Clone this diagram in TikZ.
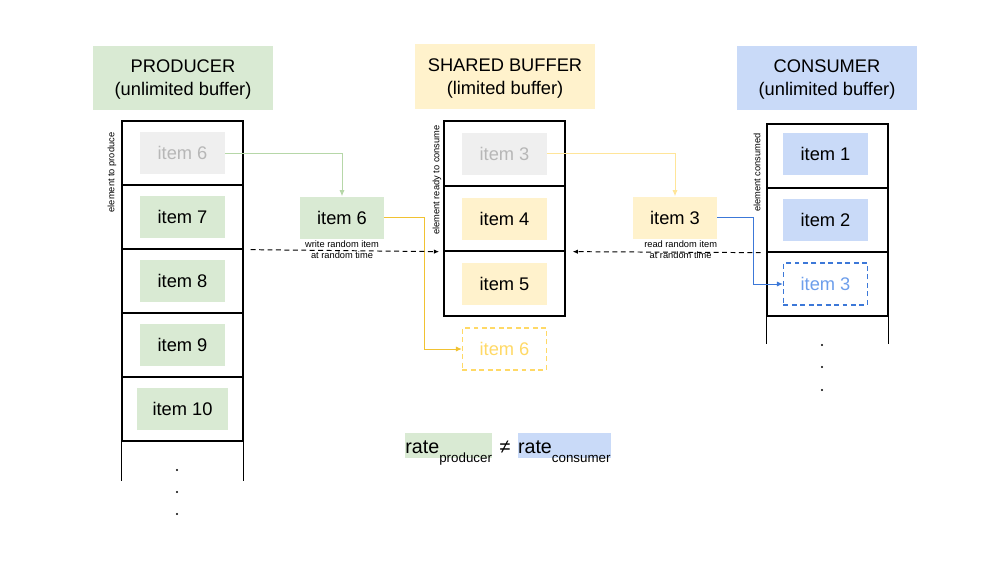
\documentclass[tikz,border=0pt]{standalone}
\usepackage{fontspec}
\setmainfont{Liberation Sans}
\usepackage{tikz}
\usetikzlibrary{positioning,calc,arrows.meta}
\definecolor{ProdGreen}{HTML}{D9EAD3}
\definecolor{BufYellow}{HTML}{FFF2CC}
\definecolor{ConsBlue}{HTML}{C9DAF8}
\definecolor{IdleGray}{HTML}{EFEFEF}
\definecolor{IdleText}{HTML}{B7B7B7}
\definecolor{PendYellow}{HTML}{FFD966}
\definecolor{PendBlue}{HTML}{3C78D8}
\definecolor{PendBlueText}{HTML}{6D9EEB}
\definecolor{FlowGreen}{HTML}{B6D7A8}
\definecolor{FlowYellow}{HTML}{F1C232}
\definecolor{FlowLight}{HTML}{FFE599}

\tikzset{
	header/.style={minimum width=4.5cm, minimum height=1.6cm, align=center, inner sep=0pt,
		text depth=-2pt, font=\fontsize{13}{16.4}\selectfont},
	cell/.style={draw, line width=0.9pt, minimum width=3.025cm, minimum height=1.6cm, inner sep=0pt},
	item/.style={minimum width=2.1cm, minimum height=1.05cm, inner sep=0pt,
		font=\fontsize{13}{15}\selectfont},
	pending/.style={item, dashed, dash pattern=on 3.5pt off 2.5pt, line width=0.9pt},
	note/.style={align=center, inner sep=0pt, font=\fontsize{6.6}{8}\selectfont},
	flow/.style={line width=0.7pt, -{Latex[length=1.5mm,width=1.3mm]}},
	timing/.style={line width=0.7pt, dashed, dash pattern=on 3.5pt off 2.5pt, -{Latex[length=1.3mm,width=1.1mm]}},
	rate/.style={inner sep=0pt, text height=14.2pt, text depth=3.6pt, font=\fontsize{14}{16}\selectfont}
}
\newcommand{\ratesub}[1]{\raisebox{-0.95ex}[0pt][0pt]{\fontsize{9.5}{10}\selectfont #1}}

\begin{document}
\begin{tikzpicture}[x=0.025cm, y=-0.025cm]
	\useasboundingbox (0,0) rectangle (1006,568);
	
	% headers
	\node[header, fill=ProdGreen] (prodhead) at (183,78) {PRODUCER\\(unlimited buffer)};
	\node[header, fill=BufYellow] (bufhead) at (505,76.5) {SHARED BUFFER\\(limited buffer)};
	\node[header, fill=ConsBlue] (conshead) at (827,78) {CONSUMER\\(unlimited buffer)};
	
	% producer stack
	\foreach \i/\cy in {1/153,2/217,3/281,4/345,5/409}
	\node[cell] (pc\i) at (182.5,\cy) {};
	\draw[line width=0.9pt] (pc5.south west) -- ++(0,39);
	\draw[line width=0.9pt] (pc5.south east) -- ++(0,39);
	\foreach \dy in {470,492,514}
	\fill (177,\dy) circle (0.8pt);
	\node[note, rotate=90] (prodlabel) at (112,172.5) {element to produce};
	
	\node[item, fill=IdleGray, text=IdleText] (pi6) at (pc1) {item 6};
	\node[item, fill=ProdGreen] (pi7) at (pc2) {item 7};
	\node[item, fill=ProdGreen] (pi8) at (pc3) {item 8};
	\node[item, fill=ProdGreen] (pi9) at (pc4) {item 9};
	\node[item, fill=ProdGreen, minimum width=2.25cm] (pi10) at (pc5) {item 10};
	
	% shared buffer stack
	\foreach \i/\cy in {1/153.5,2/218.5,3/283.5}
	\node[cell, minimum height=1.625cm] (bc\i) at (504.5,\cy) {};
	\node[note, rotate=90] (buflabel) at (437,180) {element ready to consume};
	
	\node[item, fill=IdleGray, text=IdleText] (bi3) at (bc1) {item 3};
	\node[item, fill=BufYellow] (bi4) at (bc2) {item 4};
	\node[item, fill=BufYellow] (bi5) at (bc3) {item 5};
	\node[pending, draw=PendYellow, text=PendYellow] (bi6) at (504.5,349) {item 6};
	
	% consumer stack
	\foreach \i/\cy in {1/156,2/220,3/284}
	\node[cell] (cc\i) at (827.5,\cy) {};
	\draw[line width=0.9pt] (cc3.south west) -- ++(0,27);
	\draw[line width=0.9pt] (cc3.south east) -- ++(0,27);
	\foreach \dy in {345,367,390}
	\fill (822,\dy) circle (0.8pt);
	\node[note, rotate=90] (conslabel) at (757,172.5) {element consumed};
	
	\node[item, fill=ConsBlue] (ci1) at (825.5,153.5) {item 1};
	\node[item, fill=ConsBlue] (ci2) at (825.5,219.5) {item 2};
	\node[pending, draw=PendBlue, text=PendBlueText] (ci3) at (825.5,284) {item 3};
	
	% items in transit
	\node[item, fill=ProdGreen] (mov6) at (342,217.5) {item 6};
	\node[note, below=1pt of mov6] (writenote) {write random item\\at random time};
	\node[item, fill=BufYellow] (mov3) at (675,217.5) {item 3};
	\node[note, below=1pt of mov3, xshift=4pt] (readnote) {read random item\\at random time};
	
	% connectors
	\draw[flow, draw=FlowGreen] (pi6.east) -| (mov6.north);
	\draw[flow, draw=FlowYellow] (mov6.east) -- ++(40,0) |- (bi6.west);
	\draw[flow, draw=FlowLight] (bi3.east) -| (mov3.north);
	\draw[flow, draw=PendBlue] (mov3.east) -- ++(36,0) |- (ci3.west);
	\draw[timing] ([xshift=5pt]pc2.south east) -- ([xshift=-3pt]bc2.south west);
	\draw[timing] ([xshift=-4pt]cc2.south west) -- ([xshift=5pt]bc2.south east);
	
	% rates
	\node[rate, anchor=base] (neq) at (505,453) {≠};
	\node[rate, fill=ProdGreen, base left=5pt of neq] (rprod) {rate\ratesub{producer}};
	\node[rate, fill=ConsBlue, base right=5pt of neq] (rcons) {rate\ratesub{consumer}};
\end{tikzpicture}
\end{document}
